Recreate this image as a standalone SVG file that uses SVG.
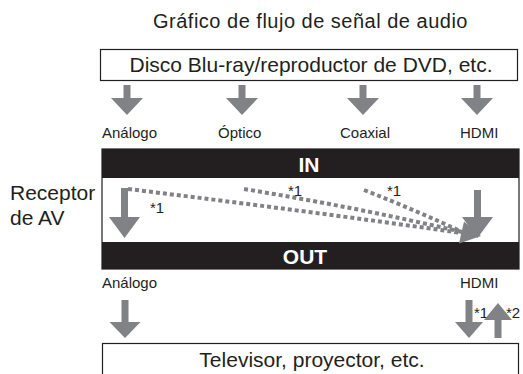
<svg xmlns="http://www.w3.org/2000/svg" width="523" height="374" viewBox="0 0 523 374">
<style>
text{font-family:"Liberation Sans",Arial,sans-serif;fill:#231f20}
.box{fill:#fff;stroke:#231f20;stroke-width:1.2}
.arr{fill:#808285}
.dash{fill:none;stroke:#808285;stroke-width:4;stroke-dasharray:4 3}
.lbl{font-size:15px}
.big{font-size:21px}
.bar{font-size:21px;font-weight:bold;fill:#fff}
</style>
<rect width="523" height="374" fill="#fff"/>
<text x="310.5" y="28" text-anchor="middle" font-size="20" letter-spacing="0.5">Gráfico de flujo de señal de audio</text>
<g id="source">
<rect class="box" x="100.5" y="49.5" width="417" height="31"/>
<text class="big" x="311" y="72" text-anchor="middle">Disco Blu-ray/reproductor de DVD, etc.</text>
</g>
<g id="receiver">
<rect x="102" y="149" width="417" height="120" fill="#fff" stroke="#231f20" stroke-width="1.2"/>
<rect x="102" y="149" width="417" height="29" fill="#231f20"/>
<rect x="102" y="242" width="417" height="27" fill="#231f20"/>
<text class="bar" x="309" y="172" text-anchor="middle">IN</text>
<text class="bar" x="305" y="264" text-anchor="middle">OUT</text>
<text class="big" x="10" y="200">Receptor</text>
<text class="big" x="10" y="225">de AV</text>
</g>
<g id="sink">
<rect class="box" x="102.5" y="343.5" width="416" height="36"/>
<text class="big" x="312" y="367" text-anchor="middle">Televisor, proyector, etc.</text>
</g>
<g id="labels">
<text class="lbl" x="102" y="138">Análogo</text>
<text class="lbl" x="218" y="138">Óptico</text>
<text class="lbl" x="340" y="138">Coaxial</text>
<text class="lbl" x="460" y="138">HDMI</text>
<text class="lbl" x="102" y="288">Análogo</text>
<text class="lbl" x="460" y="288">HDMI</text>
<text class="lbl" x="288" y="196">*1</text>
<text class="lbl" x="387" y="196">*1</text>
<text class="lbl" x="150" y="213">*1</text>
<text class="lbl" x="474" y="318">*1</text>
<text class="lbl" x="506" y="318">*2</text>
</g>
<g id="connectors">
<path class="arr" d="M123.5 85h7v13h12.5l-16 17l-16-17h12.5z"/>
<path class="arr" d="M238.5 85h7v13h12.5l-16 17l-16-17h12.5z"/>
<path class="arr" d="M359.5 85h7v13h12.5l-16 17l-16-17h12.5z"/>
<path class="arr" d="M473.5 85h7v13h12.5l-16 17l-16-17h12.5z"/>
<path class="arr" d="M121 188h7v29h12l-15.5 21l-15.5-21h12z"/>
<path class="arr" d="M474 190h7v27h12l-15.5 21l-15.5-21h12z"/>
<path class="arr" d="M121.5 300h7v22h12l-15.5 16l-15.5-16h12z"/>
<path class="arr" d="M465.5 300h7v22h10.5l-14 16l-14-16h10.5z"/>
<path class="arr" d="M494.5 338h7v-18h10.5l-14-17l-14 17h10.5z"/>
<path class="dash" d="M128 189Q300 210 462 233"/>
<path class="dash" d="M244 189Q360 208 462 232"/>
<path class="dash" d="M364 190Q420 212 462 232"/>
<polygon class="arr" points="459,243.5 464,221.5 481,236"/>
</g>
</svg>
